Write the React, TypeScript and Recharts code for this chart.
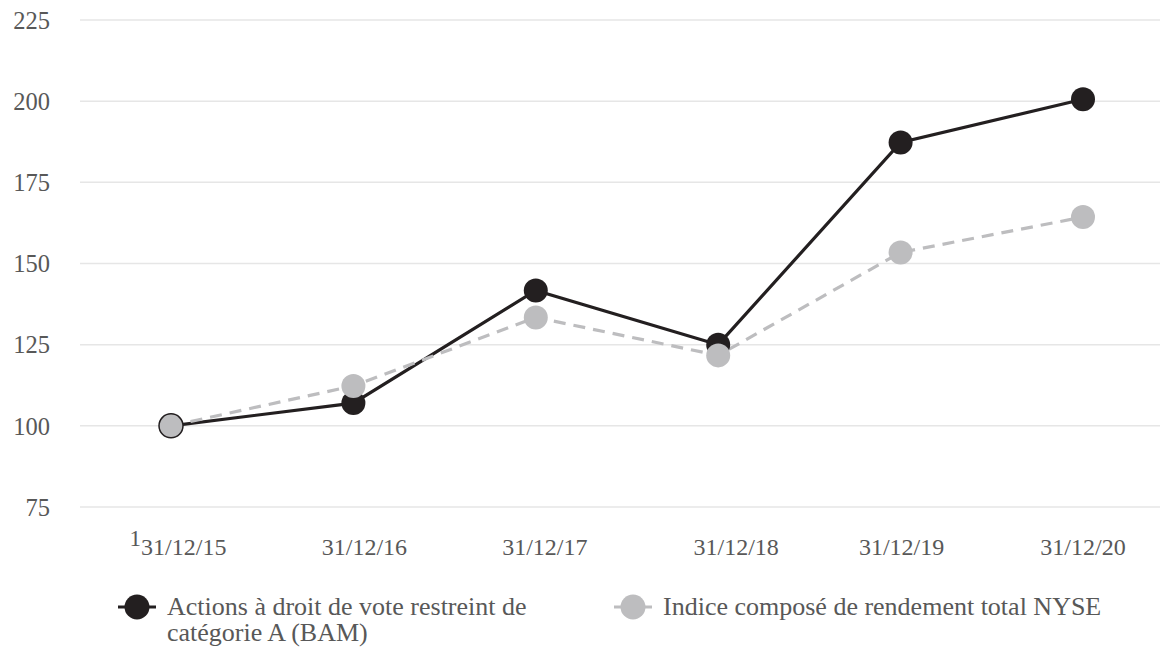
import React from "react";
import { LineChart, Line, XAxis, YAxis, CartesianGrid, Legend } from "recharts";

const categories = ["31/12/15", "31/12/16", "31/12/17", "31/12/18", "31/12/19", "31/12/20"];
const bamValues = [100, 107, 141.7, 125, 187.3, 200.6];
const nyseValues = [100, 112.3, 133.4, 121.7, 153.4, 164.3];
const yTicks = [75, 100, 125, 150, 175, 200, 225];
const seriesNames = ["Actions à droit de vote restreint de catégorie A (BAM)", "Indice composé de rendement total NYSE"];

const TICK_DX = [7, 11, 9, 18, 1, 0];

const data = categories.map((c, i) => ({ date: c, bam: bamValues[i], nyse: nyseValues[i] }));

const TEXT = "#585858";
const BLACK = "#231f20";
const GREY = "#bdbdbf";
const FONT = '"Liberation Serif", "Times New Roman", serif';

const XTick = (props: any) => {
  const { x, y, payload, index } = props;
  const dx = TICK_DX[index] ?? 0;
  if (index === 0) {
    return (
      <text x={x + dx} y={y} textAnchor="middle" fill={TEXT} fontSize={24} fontFamily={FONT}>
        <tspan fontSize={23} dy={8}>1</tspan>
        <tspan dy={9}>{payload.value}</tspan>
      </text>
    );
  }
  return (
    <text x={x + dx} y={y} textAnchor="middle" fill={TEXT} fontSize={24} fontFamily={FONT} dy="0.71em">
      {payload.value}
    </text>
  );
};

const NyseDot = (props: any) => {
  const { cx, cy, index } = props;
  return (
    <circle
      cx={cx}
      cy={cy}
      r={12}
      fill={GREY}
      stroke={index === 0 ? BLACK : "none"}
      strokeWidth={index === 0 ? 1.5 : 0}
    />
  );
};

const LegendIcon = ({ color }: { color: string }) => (
  <svg width={40} height={26} style={{ marginRight: 10, flexShrink: 0 }}>
    <line x1={1} y1={13} x2={39} y2={13} stroke={color} strokeWidth={3} />
    <circle cx={20} cy={13} r={12.5} fill={color} />
  </svg>
);

const CustomLegend = () => (
  <div style={{ position: "relative", width: 1160, height: 52, fontFamily: FONT, fontSize: 26, color: TEXT }}>
    <div style={{ position: "absolute", left: 117, top: 0, display: "flex", alignItems: "flex-start", width: 440 }}>
      <LegendIcon color={BLACK} />
      <span style={{ lineHeight: "26px", display: "block", width: 385 }}>{seriesNames[0]}</span>
    </div>
    <div style={{ position: "absolute", left: 613, top: 0, display: "flex", alignItems: "flex-start" }}>
      <LegendIcon color={GREY} />
      <span style={{ lineHeight: "26px", whiteSpace: "nowrap" }}>{seriesNames[1]}</span>
    </div>
  </div>
);

export default function App() {
  return (
    <div style={{ position: "fixed", left: 0, top: 0, width: 1160, height: 648, overflow: "hidden", background: "#fff" }}>
      <LineChart
        width={1180}
        height={648}
        data={data}
        margin={{ top: 20, right: 6, bottom: 81, left: 0 }}
        style={{ fontFamily: FONT }}
      >
        <CartesianGrid vertical={false} stroke="#e6e6e6" strokeWidth={1.5} />
        <XAxis
          dataKey="date"
          axisLine={false}
          tickLine={false}
          tickSize={0}
          tickMargin={31}
          height={60}
          padding={{ left: 91, right: 91 }}
          tick={<XTick />}
          interval={0}
        />
        <YAxis
          domain={[75, 225]}
          ticks={yTicks}
          axisLine={false}
          tickLine={false}
          tickSize={0}
          tickMargin={30}
          width={80}
          tick={{ fill: TEXT, fontSize: 24.5, fontFamily: FONT }}
        />
        <Legend verticalAlign="middle" align="center" wrapperStyle={{ top: 594, left: 0, width: 1160 }} content={<CustomLegend />} />
        <Line
          type="linear"
          dataKey="bam"
          name={seriesNames[0]}
          stroke={BLACK}
          strokeWidth={3.2}
          dot={{ r: 12, fill: BLACK, stroke: "none" }}
          activeDot={false}
          isAnimationActive={false}
        />
        <Line
          type="linear"
          dataKey="nyse"
          name={seriesNames[1]}
          stroke={GREY}
          strokeWidth={3.2}
          strokeDasharray="12 8"
          dot={<NyseDot />}
          activeDot={false}
          isAnimationActive={false}
        />
      </LineChart>
    </div>
  );
}
